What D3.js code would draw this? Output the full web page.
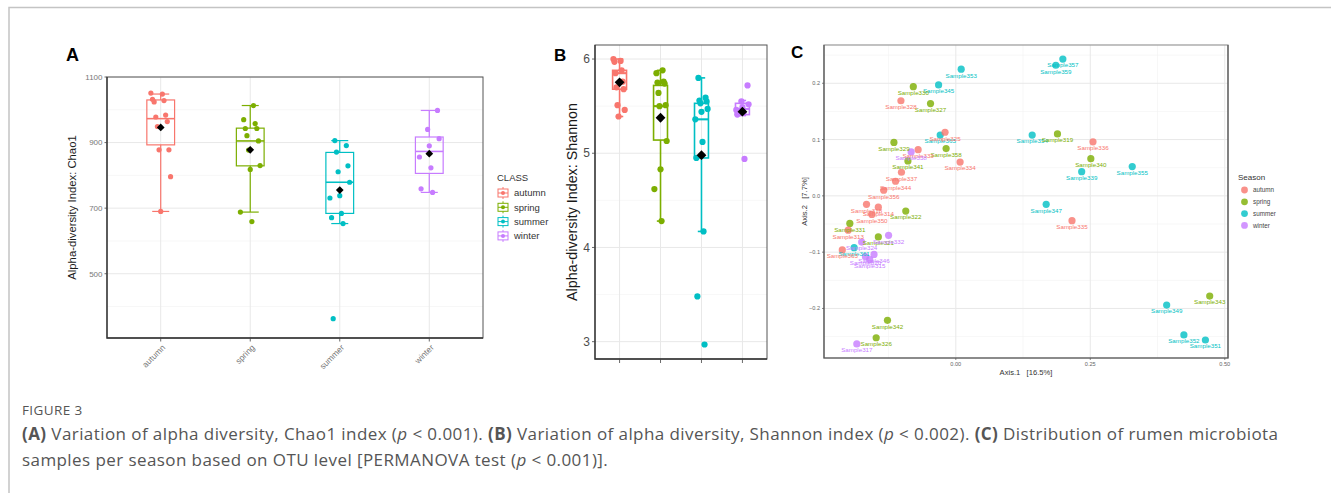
<!DOCTYPE html>
<meta charset="utf-8" />
<style>
  body { margin: 0; background: #fff; }
  svg { display: block; font-family: "Liberation Sans", Arial, sans-serif; }
  .caption { font-family: "Open Sans", sans-serif; fill: #555; }
</style>
<body>
<script src="https://d3js.org/d3.v7.min.js"></script>
<script>
  var width = 1331, height = 493;

  var seasons = ["autumn", "spring", "summer", "winter"];
  var seasonColors = ["#F8766D", "#7CAE00", "#00BFC4", "#C77CFF"];

  // panel A: Chao1 per sample
  var chao1Autumn = [1051, 1048, 1032, 1028, 1024, 984, 978, 964, 949, 878, 878, 796, 690];
  var chao1Spring = [1013, 970, 958, 943, 943, 921, 905, 877, 830, 818, 688, 659];
  var chao1Summer = [906, 891, 871, 829, 811, 779, 738, 731, 684, 671, 653, 363];
  var chao1Winter = [998, 940, 912, 890, 856, 823, 759, 748];
  // [lower whisker, Q1, median, Q3, upper whisker]
  var chao1Box = [[690, 893, 973, 1030, 1048], [688, 829, 905, 944, 1013],
                  [653, 684, 779, 870, 906], [748, 806, 873, 917, 998]];
  var chao1Mean = [946, 878, 755, 866];
  var chao1Ticks = [500, 700, 900, 1100];
  var chao1Minor = [400, 600, 800, 1000];

  // panel B: Shannon per sample
  var shannonAutumn = [6.0, 5.98, 5.97, 5.88, 5.85, 5.76, 5.70, 5.68, 5.51, 5.46, 5.39];
  var shannonSpring = [5.88, 5.85, 5.76, 5.75, 5.74, 5.64, 5.51, 5.50, 5.13, 4.83, 4.62, 4.28];
  var shannonSummer = [5.80, 5.59, 5.56, 5.55, 5.53, 5.47, 5.44, 5.36, 5.12, 4.95, 4.17, 3.48, 2.97];
  var shannonWinter = [5.72, 5.55, 5.52, 5.49, 5.46, 5.43, 5.41, 4.94];
  var shannonBox = [[5.39, 5.68, 5.85, 5.88, 6.0], [4.28, 5.14, 5.50, 5.72, 5.88],
                    [4.17, 4.95, 5.36, 5.53, 5.80], [5.40, 5.41, 5.47, 5.53, 5.56]];
  var shannonMean = [5.753, 5.377, 4.98, 5.441];
  var shannonTicks = [3, 4, 5, 6];
  var shannonMinor = [3.5, 4.5, 5.5];

  // panel C: PCoA coordinates
  var pcoaSample = ["Sample353", "Sample345", "Sample357", "Sample359", "Sample365", "Sample354",
    "Sample339", "Sample355", "Sample347", "Sample349", "Sample352", "Sample351", "Sample361",
    "Sample330", "Sample327", "Sample329", "Sample358", "Sample341", "Sample319", "Sample340",
    "Sample322", "Sample331", "Sample321", "Sample342", "Sample326", "Sample343",
    "Sample328", "Sample325", "Sample333", "Sample334", "Sample337", "Sample344", "Sample356",
    "Sample336", "Sample335", "Sample318", "Sample314", "Sample350", "Sample313", "Sample363",
    "Sample338", "Sample332", "Sample324", "Sample346", "Sample320", "Sample315", "Sample317"];
  var pcoaSeason = ["summer", "summer", "summer", "summer", "summer", "summer", "summer", "summer",
    "summer", "summer", "summer", "summer", "summer",
    "spring", "spring", "spring", "spring", "spring", "spring", "spring", "spring", "spring",
    "spring", "spring", "spring", "spring",
    "autumn", "autumn", "autumn", "autumn", "autumn", "autumn", "autumn", "autumn", "autumn",
    "autumn", "autumn", "autumn", "autumn", "autumn",
    "winter", "winter", "winter", "winter", "winter", "winter", "winter"];
  var pcoaAxis1 = [0.010, -0.032, 0.199, 0.186, -0.029, 0.142, 0.234, 0.328, 0.168, 0.392, 0.424, 0.464, -0.189,
    -0.079, -0.047, -0.115, -0.018, -0.089, 0.189, 0.251, -0.093, -0.197, -0.144, -0.127, -0.148, 0.472,
    -0.102, -0.020, -0.070, 0.008, -0.101, -0.112, -0.134, 0.255, 0.216, -0.166, -0.144, -0.156, -0.200, -0.211,
    -0.083, -0.125, -0.175, -0.152, -0.168, -0.160, -0.184];
  var pcoaAxis2 = [0.225, 0.197, 0.243, 0.232, 0.108, 0.108, 0.043, 0.052, -0.015, -0.194, -0.247, -0.256, -0.092,
    0.194, 0.164, 0.095, 0.084, 0.062, 0.110, 0.066, -0.027, -0.049, -0.073, -0.221, -0.252, -0.178,
    0.169, 0.113, 0.082, 0.060, 0.042, 0.026, 0.010, 0.096, -0.044, -0.015, -0.020, -0.033, -0.061, -0.096,
    0.078, -0.070, -0.082, -0.104, -0.108, -0.113, -0.263];
  var pcoaXTicks = [0, 0.25, 0.5];
  var pcoaXMinor = [-0.125, 0.125, 0.375];
  var pcoaYTicks = [-0.2, -0.1, 0, 0.1, 0.2];
  var pcoaYMinor = [-0.25, -0.15, -0.05, 0.05, 0.15, 0.25];

  var color = d3.scaleOrdinal().domain(seasons).range(seasonColors);

  var svg = d3.select("body").append("svg")
    .attr("width", width).attr("height", height);
  svg.append("rect").attr("width", width).attr("height", height).attr("fill", "#fff");

  // frame around the figure
  svg.append("path").attr("d", "M9,493V7.5H1331")
    .attr("fill", "none").attr("stroke", "#c4c4c4").attr("stroke-width", 1.5);

  // spread points sideways like geom_jitter, without randomness
  function jitter(i) { return ((i * 7) % 13) / 12 - 0.5; }

  function boxPanel(opt) {
    var g = svg.append("g");
    var x = d3.scalePoint().domain(seasons).range([opt.x0, opt.x1]).padding(0.6);
    var y = d3.scaleLinear().domain(opt.domain).range([opt.y1, opt.y0]);
    var step = x.step();

    g.append("g").selectAll("line").data(opt.minor).join("line")
      .attr("x1", opt.x0).attr("x2", opt.x1).attr("y1", d => y(d)).attr("y2", d => y(d))
      .attr("stroke", "#f2f2f2").attr("stroke-width", 0.6);
    g.append("g").selectAll("line").data(opt.ticks).join("line")
      .attr("x1", opt.x0).attr("x2", opt.x1).attr("y1", d => y(d)).attr("y2", d => y(d))
      .attr("stroke", "#e8e8e8").attr("stroke-width", 1);
    g.append("g").selectAll("line").data(seasons).join("line")
      .attr("x1", d => x(d)).attr("x2", d => x(d)).attr("y1", opt.y0).attr("y2", opt.y1)
      .attr("stroke", "#e8e8e8").attr("stroke-width", 1);

    var bw = step * opt.boxFrac, cw = step * opt.capFrac;
    seasons.forEach(function(s, i) {
      var b = opt.box[i], cx = x(s), c = color(s);
      var bg = g.append("g").attr("stroke", c).attr("stroke-width", opt.lw).attr("fill", "none");
      bg.append("line").attr("x1", cx).attr("x2", cx).attr("y1", y(b[4])).attr("y2", y(b[3]));
      bg.append("line").attr("x1", cx).attr("x2", cx).attr("y1", y(b[1])).attr("y2", y(b[0]));
      [b[0], b[4]].forEach(function(v) {
        bg.append("line").attr("x1", cx - cw / 2).attr("x2", cx + cw / 2)
          .attr("y1", y(v)).attr("y2", y(v));
      });
      bg.append("rect").attr("x", cx - bw / 2).attr("width", bw)
        .attr("y", y(b[3])).attr("height", y(b[1]) - y(b[3]));
      bg.append("line").attr("x1", cx - bw / 2).attr("x2", cx + bw / 2)
        .attr("y1", y(b[2])).attr("y2", y(b[2])).attr("stroke-width", opt.lw * 1.3);

      g.append("g").selectAll("circle").data(opt.values[i]).join("circle")
        .attr("cx", (d, j) => cx + jitter(j + i * 3) * step * opt.jit)
        .attr("cy", d => y(d))
        .attr("r", opt.r)
        .attr("fill", c);
    });

    g.append("g").selectAll("path").data(opt.mean).join("path")
      .attr("d", d3.symbol(d3.symbolSquare, opt.diamond)())
      .attr("transform", (d, i) => "translate(" + x(seasons[i]) + "," + y(d) + ") rotate(45)")
      .attr("fill", "#000");

    g.append("rect").attr("x", opt.x0).attr("y", opt.y0)
      .attr("width", opt.x1 - opt.x0).attr("height", opt.y1 - opt.y0)
      .attr("fill", "none").attr("stroke", "#555").attr("stroke-width", 1);
    g.append("path").attr("d", "M" + opt.x0 + "," + opt.y0 + "V" + opt.y1 + "H" + opt.x1)
      .attr("fill", "none").attr("stroke", "#333").attr("stroke-width", 1.3);

    // y ticks and labels
    g.append("g").selectAll("line").data(opt.ticks).join("line")
      .attr("x1", opt.x0 - opt.tick).attr("x2", opt.x0).attr("y1", d => y(d)).attr("y2", d => y(d))
      .attr("stroke", "#444").attr("stroke-width", 0.8);
    g.append("g").selectAll("text").data(opt.ticks).join("text")
      .attr("x", opt.x0 - opt.tick - 2).attr("y", d => y(d)).attr("dy", "0.35em")
      .attr("text-anchor", "end").attr("font-size", opt.tickFont).attr("fill", opt.tickColor)
      .text(d => d);
    g.append("g").selectAll("line").data(seasons).join("line")
      .attr("x1", d => x(d)).attr("x2", d => x(d)).attr("y1", opt.y1).attr("y2", opt.y1 + opt.tick + 1)
      .attr("stroke", "#444").attr("stroke-width", 0.8);

    g.append("text")
      .attr("transform", "translate(" + opt.titleX + "," + (opt.y0 + opt.y1) / 2 + ") rotate(-90)")
      .attr("text-anchor", "middle").attr("font-size", opt.titleFont).attr("fill", "#1a1a1a")
      .text(opt.title);
    return { g: g, x: x, y: y };
  }

  // ---------- panel A ----------
  var A = boxPanel({
    x0: 107, x1: 483, y0: 77, y1: 338, domain: [304, 1100],
    ticks: chao1Ticks, minor: chao1Minor, box: chao1Box, mean: chao1Mean,
    values: [chao1Autumn, chao1Spring, chao1Summer, chao1Winter],
    boxFrac: 0.31, capFrac: 0.19, lw: 1.2, r: 2.6, jit: 0.22, diamond: 30,
    tick: 2.5, tickFont: 8, tickColor: "#777",
    titleX: 76, titleFont: 11.3, title: "Alpha-diversity Index: Chao1"
  });
  A.g.append("g").selectAll("text").data(seasons).join("text")
    .attr("transform", d => "translate(" + (A.x(d) + 3) + ",346) rotate(-45)")
    .attr("text-anchor", "end").attr("dy", "0.35em")
    .attr("font-size", 8.5).attr("fill", "#777")
    .text(d => d);
  svg.append("text").attr("x", 66).attr("y", 61).attr("font-size", 18)
    .attr("font-weight", "bold").text("A");

  // legend A
  var legA = svg.append("g").attr("transform", "translate(497,0)");
  legA.append("text").attr("x", 0).attr("y", 181).attr("font-size", 9.5).attr("fill", "#333").text("CLASS");
  legA.selectAll("g").data(seasons).join("g")
    .attr("transform", (d, i) => "translate(0," + (193 + i * 14.3) + ")")
    .each(function(d) {
      var k = d3.select(this), c = color(d);
      k.append("line").attr("x1", 6).attr("x2", 6).attr("y1", -6).attr("y2", 6)
        .attr("stroke", c).attr("stroke-width", 1);
      k.append("rect").attr("x", 1).attr("y", -4).attr("width", 10).attr("height", 8)
        .attr("fill", "#fff").attr("stroke", c).attr("stroke-width", 1);
      k.append("line").attr("x1", 1).attr("x2", 11).attr("y1", 0).attr("y2", 0)
        .attr("stroke", c).attr("stroke-width", 1);
      k.append("circle").attr("cx", 6).attr("cy", 0).attr("r", 2).attr("fill", c);
      k.append("text").attr("x", 17).attr("y", 0).attr("dy", "0.35em")
        .attr("font-size", 9.5).attr("fill", "#333").text(d);
    });

  // ---------- panel B ----------
  boxPanel({
    x0: 595, x1: 767, y0: 45, y1: 359, domain: [2.816, 6.149],
    ticks: shannonTicks, minor: shannonMinor, box: shannonBox, mean: shannonMean,
    values: [shannonAutumn, shannonSpring, shannonSummer, shannonWinter],
    boxFrac: 0.34, capFrac: 0.18, lw: 1.6, r: 3.1, jit: 0.3, diamond: 48,
    tick: 3, tickFont: 12, tickColor: "#4d4d4d",
    titleX: 577, titleFont: 14.3, title: "Alpha-diversity Index: Shannon"
  });
  svg.append("text").attr("x", 554).attr("y", 61).attr("font-size", 17)
    .attr("font-weight", "bold").text("B");

  // ---------- panel C ----------
  var cx0 = 824, cx1 = 1228, cy0 = 45, cy1 = 358;
  var px = d3.scaleLinear().domain([-0.245, 0.506]).range([cx0, cx1]);
  var py = d3.scaleLinear().domain([-0.288, 0.268]).range([cy1, cy0]);
  var C = svg.append("g");
  C.append("g").selectAll("line").data(pcoaYMinor).join("line")
    .attr("x1", cx0).attr("x2", cx1).attr("y1", d => py(d)).attr("y2", d => py(d))
    .attr("stroke", "#f2f2f2").attr("stroke-width", 0.6);
  C.append("g").selectAll("line").data(pcoaXMinor).join("line")
    .attr("y1", cy0).attr("y2", cy1).attr("x1", d => px(d)).attr("x2", d => px(d))
    .attr("stroke", "#f2f2f2").attr("stroke-width", 0.6);
  C.append("g").selectAll("line").data(pcoaYTicks).join("line")
    .attr("x1", cx0).attr("x2", cx1).attr("y1", d => py(d)).attr("y2", d => py(d))
    .attr("stroke", "#e8e8e8").attr("stroke-width", 1);
  C.append("g").selectAll("line").data(pcoaXTicks).join("line")
    .attr("y1", cy0).attr("y2", cy1).attr("x1", d => px(d)).attr("x2", d => px(d))
    .attr("stroke", "#e8e8e8").attr("stroke-width", 1);

  var idx = d3.range(pcoaSample.length);
  C.append("g").selectAll("circle").data(idx).join("circle")
    .attr("cx", i => px(pcoaAxis1[i])).attr("cy", i => py(pcoaAxis2[i]))
    .attr("r", 3.6).attr("fill", i => color(pcoaSeason[i])).attr("fill-opacity", 0.8);
  C.append("g").selectAll("text").data(idx).join("text")
    .attr("x", i => px(pcoaAxis1[i])).attr("y", i => py(pcoaAxis2[i]) + 8.4)
    .attr("text-anchor", "middle").attr("font-size", 6.2)
    .attr("fill", i => color(pcoaSeason[i]))
    .text(i => pcoaSample[i]);

  C.append("rect").attr("x", cx0).attr("y", cy0).attr("width", cx1 - cx0).attr("height", cy1 - cy0)
    .attr("fill", "none").attr("stroke", "#999").attr("stroke-width", 1.2);
  C.append("path").attr("d", "M" + cx0 + "," + cy0 + "V" + cy1 + "H" + cx1 + "V" + cy0)
    .attr("fill", "none").attr("stroke", "#555").attr("stroke-width", 1.2);

  C.append("g").selectAll("line").data(pcoaYTicks).join("line")
    .attr("x1", cx0 - 2).attr("x2", cx0).attr("y1", d => py(d)).attr("y2", d => py(d))
    .attr("stroke", "#555").attr("stroke-width", 0.7);
  C.append("g").selectAll("text").data(pcoaYTicks).join("text")
    .attr("x", cx0 - 4).attr("y", d => py(d)).attr("dy", "0.35em").attr("text-anchor", "end")
    .attr("font-size", 5.6).attr("fill", "#666").text(d => d3.format(".1f")(d));
  C.append("g").selectAll("line").data(pcoaXTicks).join("line")
    .attr("x1", d => px(d)).attr("x2", d => px(d)).attr("y1", cy1).attr("y2", cy1 + 2)
    .attr("stroke", "#555").attr("stroke-width", 0.7);
  C.append("g").selectAll("text").data(pcoaXTicks).join("text")
    .attr("x", d => px(d)).attr("y", cy1 + 8).attr("text-anchor", "middle")
    .attr("font-size", 5.6).attr("fill", "#666").text(d => d3.format(".2f")(d));

  C.append("text").attr("x", (cx0 + cx1) / 2).attr("y", 375).attr("text-anchor", "middle")
    .attr("font-size", 7.6).attr("fill", "#333").attr("xml:space", "preserve")
    .text("Axis.1   [16.5%]");
  C.append("text").attr("transform", "translate(807," + (cy0 + cy1) / 2 + ") rotate(-90)")
    .attr("text-anchor", "middle").attr("font-size", 7.6).attr("fill", "#333")
    .attr("xml:space", "preserve").text("Axis.2   [7.7%]");
  svg.append("text").attr("x", 791).attr("y", 58).attr("font-size", 17)
    .attr("font-weight", "bold").text("C");

  // legend C
  var legC = svg.append("g").attr("transform", "translate(1238,0)");
  legC.append("text").attr("x", 0).attr("y", 180).attr("font-size", 8).attr("fill", "#333").text("Season");
  legC.selectAll("g").data(seasons).join("g")
    .attr("transform", (d, i) => "translate(0," + (190 + i * 11.8) + ")")
    .each(function(d) {
      var k = d3.select(this);
      k.append("circle").attr("cx", 6.5).attr("cy", 0).attr("r", 3.4)
        .attr("fill", color(d)).attr("fill-opacity", 0.8);
      k.append("text").attr("x", 15).attr("y", 0).attr("dy", "0.35em")
        .attr("font-size", 6.3).attr("fill", "#444").text(d);
    });

  // ---------- caption ----------
  var captionLine2 = [["(A)", "b"], [" Variation of alpha diversity, Chao1 index (", ""], ["p", "i"],
    [" < 0.001). ", ""], ["(B)", "b"], [" Variation of alpha diversity, Shannon index (", ""], ["p", "i"],
    [" < 0.002). ", ""], ["(C)", "b"], [" Distribution of rumen microbiota", ""]];
  var captionLine3 = [["samples per season based on OTU level [PERMANOVA test (", ""], ["p", "i"],
    [" < 0.001)].", ""]];

  svg.append("text").attr("class", "caption").attr("x", 22).attr("y", 415)
    .attr("font-size", 13.5).attr("letter-spacing", 0.4).attr("fill", "#5a5a5a").text("FIGURE 3");
  [[captionLine2, 440], [captionLine3, 466]].forEach(function(line) {
    svg.append("text").attr("class", "caption").attr("x", 22).attr("y", line[1])
      .attr("font-size", 17).attr("letter-spacing", 0.42).attr("xml:space", "preserve")
      .selectAll("tspan").data(line[0]).join("tspan")
      .attr("font-weight", d => d[1] === "b" ? "bold" : null)
      .attr("font-style", d => d[1] === "i" ? "italic" : null)
      .text(d => d[0]);
  });
</script>
</body>
